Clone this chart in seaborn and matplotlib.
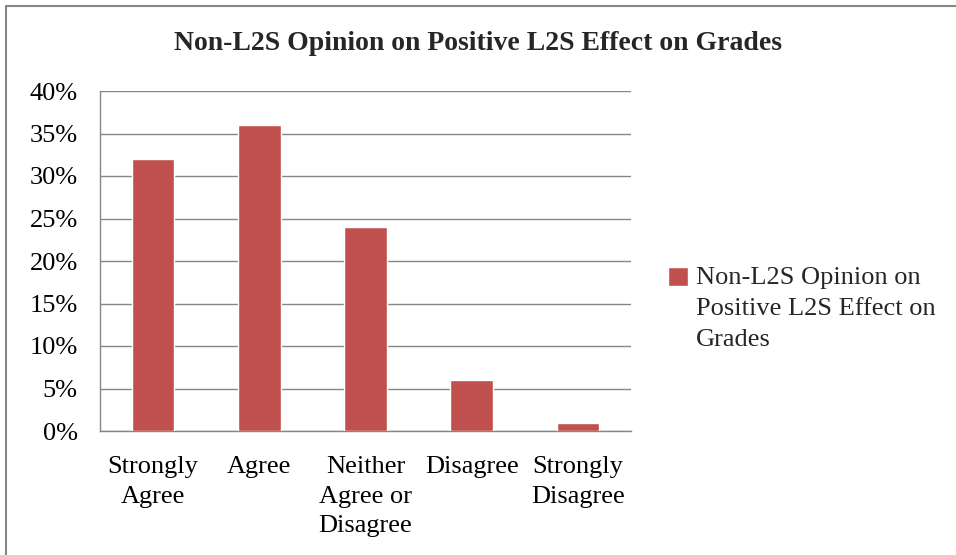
import matplotlib.pyplot as plt
import seaborn as sns
from matplotlib.lines import Line2D
from matplotlib.ticker import PercentFormatter

title = "Non-L2S Opinion on Positive L2S Effect on Grades"
series_name = "Non-L2S Opinion on\nPositive L2S Effect on\nGrades"
categories = ["Strongly\nAgree", "Agree", "Neither\nAgree or\nDisagree", "Disagree", "Strongly\nDisagree"]
percentages = [32, 36, 24, 6, 1]
y_ticks = [0, 5, 10, 15, 20, 25, 30, 35, 40]

sns.set_style("white")
plt.rcParams['font.family'] = ['Liberation Serif', 'DejaVu Serif']

fig = plt.figure(figsize=(9.56, 5.55), dpi=100)
ax = fig.add_axes([100 / 956, 1 - 431 / 555, 531 / 956, 340 / 555])

sns.barplot(x=categories, y=percentages, color="#C0504D", saturation=1, width=0.4,
            label=series_name, ax=ax, zorder=3)

grey = "#868686"
ax.set_xlim(-0.5, 4.5)
ax.set_ylim(0, 40)
ax.set_yticks(y_ticks)
ax.yaxis.set_major_formatter(PercentFormatter(decimals=0))
ax.set_xlabel("")
ax.set_ylabel("")
ax.yaxis.grid(True, color=grey, lw=1)
ax.set_axisbelow(True)
for side in ["top", "right"]:
    ax.spines[side].set_visible(False)
for side in ["left", "bottom"]:
    ax.spines[side].set_color(grey)
    ax.spines[side].set_linewidth(1)

# category boundaries get the tick marks, labels sit in the middle
ax.set_xticks([i - 0.5 for i in range(len(categories) + 1)], minor=True)
ax.tick_params(axis="x", which="major", length=0, pad=18, labelsize=19, colors="black")
ax.tick_params(axis="x", which="minor", length=5, color=grey, width=1, direction="out")
ax.tick_params(axis="y", length=5, color=grey, width=1, direction="out", pad=11,
               labelsize=19, labelcolor="black")
plt.setp(ax.get_xticklabels(), linespacing=1.45)

leg = ax.legend(loc="center left", bbox_to_anchor=(668 / 956, 1 - 309 / 555),
                bbox_transform=fig.transFigure, frameon=False, fontsize=19,
                handlelength=0.75, handleheight=0.75, handletextpad=0.3,
                borderpad=0, borderaxespad=0)
plt.setp(leg.get_texts(), linespacing=1.55)
# square sits beside the first line of the label, like Excel does it
for row in leg._legend_handle_box.get_children()[0].get_children():
    row.align = "top"

fig.text(478 / 956, 1 - 44 / 555, title, ha="center", va="center",
         fontsize=20, fontweight="bold")

# outer chart frame (only top and left edges show)
fig.add_artist(Line2D([6 / 956, 1], [1 - 6 / 555, 1 - 6 / 555], color=grey, lw=1.5))
fig.add_artist(Line2D([6 / 956, 6 / 956], [0, 1 - 6 / 555], color=grey, lw=1.5))

fig.savefig("out.png", dpi=100)
